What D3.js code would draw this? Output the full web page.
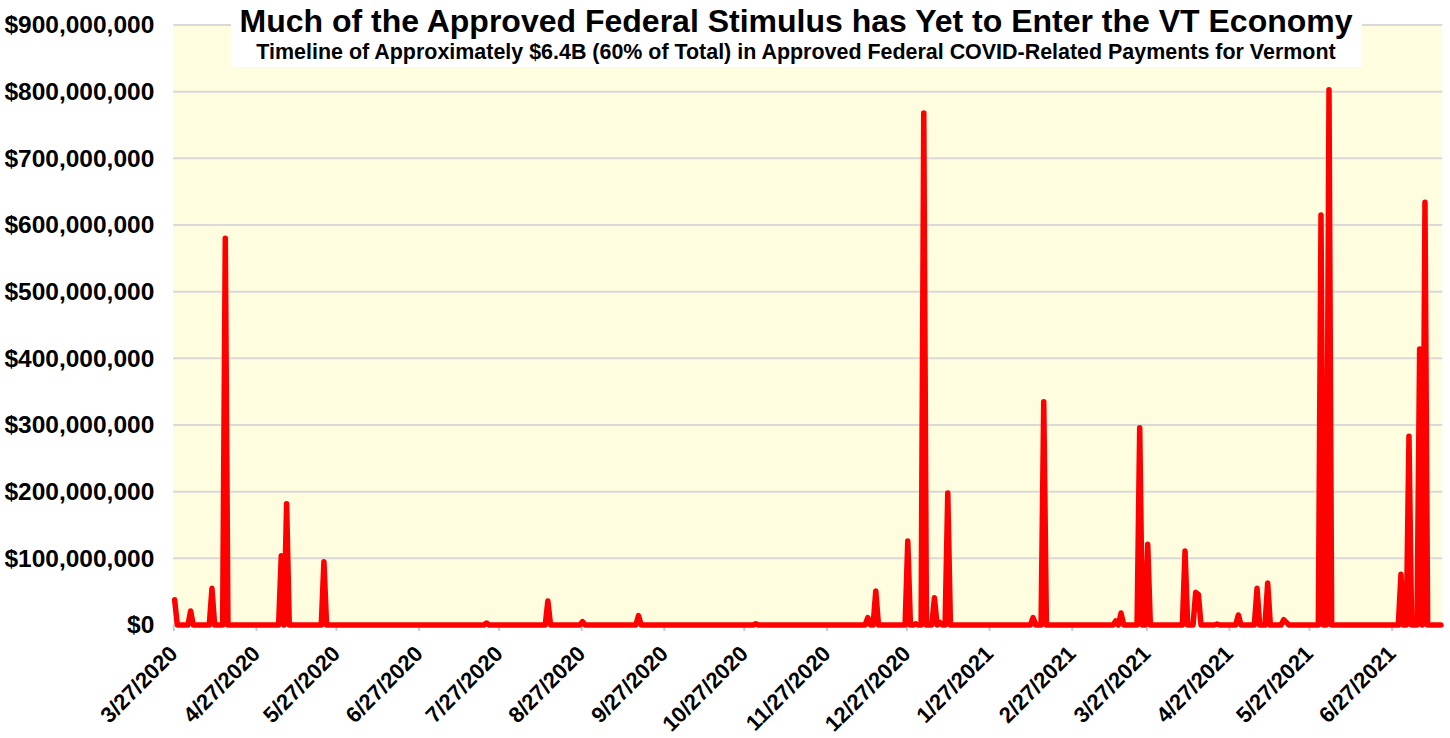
<!DOCTYPE html>
<html>
<head>
<meta charset="utf-8">
<script src="https://cdn.jsdelivr.net/npm/d3@7"></script>
<style>
  html, body { margin: 0; padding: 0; background: #ffffff; }
  svg { display: block; }
  text { font-family: "Liberation Sans", Arial, sans-serif; font-weight: bold; fill: #000; }
</style>
</head>
<body>
<svg id="chart" width="1450" height="738"></svg>
<script>
// Daily series runs from the first to the last date below; days without a payment are $0.
const firstDay = "3/27/2020";
const lastDay = "7/15/2021";

// Payment dates and amounts (millions of dollars)
const paymentDates = [
  "3/27/2020", "4/2/2020", "4/10/2020", "4/15/2020", "5/6/2020", "5/8/2020", "5/22/2020",
  "7/22/2020", "8/14/2020", "8/27/2020", "9/17/2020", "10/31/2020",
  "12/12/2020", "12/15/2020", "12/27/2020", "12/30/2020",
  "1/2/2021", "1/6/2021", "1/8/2021", "1/11/2021", "2/12/2021", "2/16/2021",
  "3/15/2021", "3/17/2021", "3/24/2021", "3/27/2021",
  "4/10/2021", "4/14/2021", "4/15/2021", "4/22/2021", "4/30/2021",
  "5/7/2021", "5/11/2021", "5/17/2021", "5/18/2021", "5/31/2021",
  "6/3/2021", "6/30/2021", "7/3/2021", "7/7/2021", "7/9/2021"
];
const paymentMillions = [
  38, 21, 55, 580, 104, 182, 95,
  3, 36, 5, 14, 2,
  11, 51, 126, 2,
  768, 41, 4, 198, 11, 335,
  6, 18, 296, 121,
  111, 49, 46, 1.5, 15,
  55, 63, 8, 4, 615,
  803, 76, 283, 414, 634
];

const tickLabels = [
  "3/27/2020", "4/27/2020", "5/27/2020", "6/27/2020", "7/27/2020", "8/27/2020",
  "9/27/2020", "10/27/2020", "11/27/2020", "12/27/2020", "1/27/2021", "2/27/2021",
  "3/27/2021", "4/27/2021", "5/27/2021", "6/27/2021"
];
const yTicks = [0, 100e6, 200e6, 300e6, 400e6, 500e6, 600e6, 700e6, 800e6, 900e6];

const titleText = "Much of the Approved Federal Stimulus has Yet to Enter the VT Economy";
const subtitleText = "Timeline of Approximately $6.4B (60% of Total) in Approved Federal COVID-Related Payments for Vermont";

const parseDate = d3.utcParse("%m/%d/%Y");
const fmtKey = d3.utcFormat("%Y-%m-%d");

// Build the daily series
const start = parseDate(firstDay);
const end = parseDate(lastDay);
const amountByDay = new Map(paymentDates.map((d, i) => [fmtKey(parseDate(d)), paymentMillions[i] * 1e6]));
const series = d3.utcDay.range(start, d3.utcDay.offset(end, 1)).map(d => ({
  date: d,
  value: amountByDay.get(fmtKey(d)) || 0
}));

const plot = { left: 173.3, right: 1442.3, top: 25, bottom: 625 };
const labelFont = "\"Liberation Sans\", Arial, sans-serif";

// Each day occupies one slot; the point sits in the middle of its slot
const x = d3.scaleUtc()
  .domain([start, d3.utcDay.offset(end, 1)])
  .range([plot.left, plot.right]);
const y = d3.scaleLinear().domain([0, 900e6]).range([plot.bottom, plot.top]);
const mid = d => new Date(d.getTime() + 12 * 3600 * 1000);

const svg = d3.select("#chart");

// Plot area background
svg.append("rect")
  .attr("x", plot.left).attr("y", plot.top)
  .attr("width", plot.right - plot.left).attr("height", plot.bottom - plot.top)
  .attr("fill", "#FFFDE0");

// Horizontal gridlines
svg.append("g")
  .selectAll("line")
  .data(yTicks.filter(v => v > 0))
  .join("line")
  .attr("x1", plot.left).attr("x2", plot.right)
  .attr("y1", d => y(d)).attr("y2", d => y(d))
  .attr("stroke", "#D9D9D9").attr("stroke-width", 2);

// Y axis labels
const yAxis = d3.axisLeft(y)
  .tickValues(yTicks)
  .tickSize(0)
  .tickPadding(19)
  .tickFormat(v => "$" + d3.format(",")(v));
const gy = svg.append("g").attr("transform", `translate(${plot.left},0)`).call(yAxis);
gy.select(".domain").remove();
gy.selectAll("text")
  .attr("font-size", 24.5)
  .attr("font-family", labelFont)
  .attr("font-weight", "bold")
  .attr("fill", "#000");

// X axis: tick marks and rotated labels
const tickDates = tickLabels.map(parseDate);
const xAxis = d3.axisBottom(x)
  .tickValues(tickDates)
  .tickSize(6)
  .tickFormat((d, i) => tickLabels[i]);
const gx = svg.append("g").attr("transform", `translate(0,${plot.bottom})`).call(xAxis);
gx.select(".domain").remove();
gx.selectAll(".tick line").attr("stroke", "#C8C8C8").attr("stroke-width", 2);
gx.selectAll(".tick text")
  .attr("font-size", 22)
  .attr("font-family", labelFont)
  .attr("font-weight", "bold")
  .attr("fill", "#000")
  .attr("text-anchor", "end")
  .attr("y", 0).attr("dy", 0)
  .attr("transform", "translate(5,30) rotate(-45)");

// Daily payment line
const line = d3.line()
  .x(d => x(mid(d.date)))
  .y(d => y(d.value));
svg.append("path")
  .datum(series)
  .attr("d", line)
  .attr("fill", "none")
  .attr("stroke", "#FF0000")
  .attr("stroke-width", 5.5)
  .attr("stroke-linejoin", "round")
  .attr("stroke-linecap", "round");

// Title block
svg.append("rect")
  .attr("x", 231).attr("y", 0).attr("width", 1131).attr("height", 67)
  .attr("fill", "#ffffff");
svg.append("text")
  .attr("x", 796).attr("y", 32)
  .attr("text-anchor", "middle")
  .attr("font-size", 32)
  .text(titleText);
svg.append("text")
  .attr("x", 796).attr("y", 59)
  .attr("text-anchor", "middle")
  .attr("font-size", 21.45)
  .text(subtitleText);
</script>
</body>
</html>
